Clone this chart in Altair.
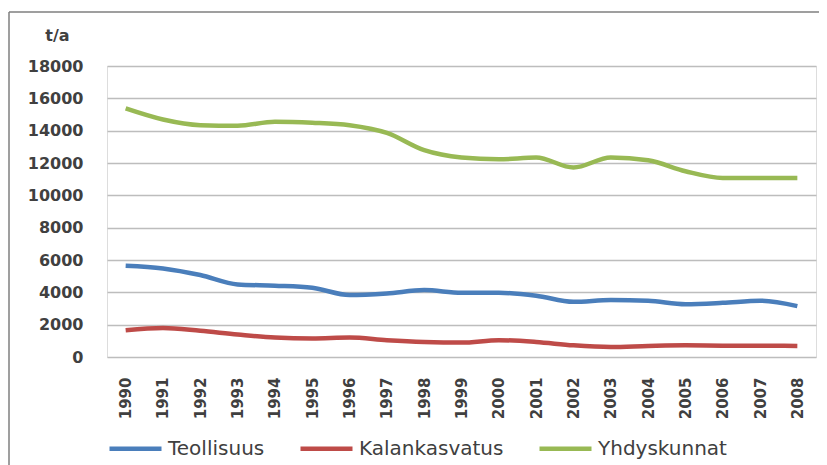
import altair as alt
import pandas as pd

years = [str(y) for y in range(1990, 2009)]
teollisuus = [5650, 5480, 5070, 4490, 4410, 4280, 3830, 3930, 4140, 3970,
              3970, 3790, 3410, 3520, 3480, 3270, 3350, 3480, 3150]
kalankasvatus = [1660, 1800, 1620, 1390, 1200, 1140, 1200, 1040, 930, 890,
                 1040, 930, 720, 620, 680, 720, 700, 700, 680]
yhdyskunnat = [15375, 14690, 14340, 14300, 14550, 14490, 14340, 13860, 12790, 12340,
               12230, 12340, 11720, 12340, 12170, 11490, 11070, 11070, 11070]
series = ["Teollisuus", "Kalankasvatus", "Yhdyskunnat"]
colors = ["#4a7ebb", "#be4b48", "#98b954"]

rows = []
for name, vals in zip(series, [teollisuus, kalankasvatus, yhdyskunnat]):
    for y, v in zip(years, vals):
        rows.append({"vuosi": y, "arvo": v, "sarja": name})
df = pd.DataFrame(rows)

lines = alt.Chart(df).mark_line(strokeWidth=4.5, interpolate="monotone").encode(
    x=alt.X("vuosi:O", sort=years,
            axis=alt.Axis(title=None, labelAngle=270, ticks=False, domain=False,
                          labelPadding=20, labelFont="DejaVu Sans", labelFontSize=15,
                          labelFontWeight="bold", labelColor="#404040")),
    y=alt.Y("arvo:Q", scale=alt.Scale(domain=[0, 18000], nice=False),
            axis=alt.Axis(title="t/a", titleAngle=0, titleX=-50, titleY=-26,
                          titleAlign="center", titleBaseline="alphabetic",
                          titleFont="DejaVu Sans", titleFontSize=16, titleFontWeight="bold",
                          titleColor="#404040",
                          values=list(range(0, 18001, 2000)), format="d",
                          ticks=False, domain=False, labelPadding=24,
                          labelFont="DejaVu Sans", labelFontSize=16, labelFontWeight="bold",
                          labelColor="#404040", grid=True, gridColor="#bdbdbd",
                          gridWidth=1.5)),
    color=alt.Color("sarja:N", sort=series,
                    scale=alt.Scale(domain=series, range=colors),
                    legend=alt.Legend(title=None, orient="none", legendX=0, legendY=354,
                                      direction="horizontal", symbolType="stroke",
                                      symbolSize=2704, symbolStrokeWidth=4.5,
                                      labelOffset=4, columnPadding=26,
                                      labelFont="DejaVu Sans", labelFontSize=20,
                                      labelColor="#404040")),
)

frame_df = pd.DataFrame({"a": [0]})
top_line = alt.Chart(frame_df).mark_rule(color="#7f7f7f", strokeWidth=1.5).encode(
    x=alt.value(-98), x2=alt.value(730), y=alt.value(-54))
left_line = alt.Chart(frame_df).mark_rule(color="#7f7f7f", strokeWidth=1.5).encode(
    x=alt.value(-98), y=alt.value(-54), y2=alt.value(430))

chart = alt.layer(top_line, left_line, lines).properties(
    width=709, height=291,
    autosize=alt.AutoSizeParams(type="none"),
    padding={"left": 99, "top": 58, "right": 3, "bottom": 108},
).configure_view(stroke="#a6a6a6", strokeWidth=1.5).configure(background="white")

chart.save("out.html", embed_options={"renderer": "svg", "actions": False})
